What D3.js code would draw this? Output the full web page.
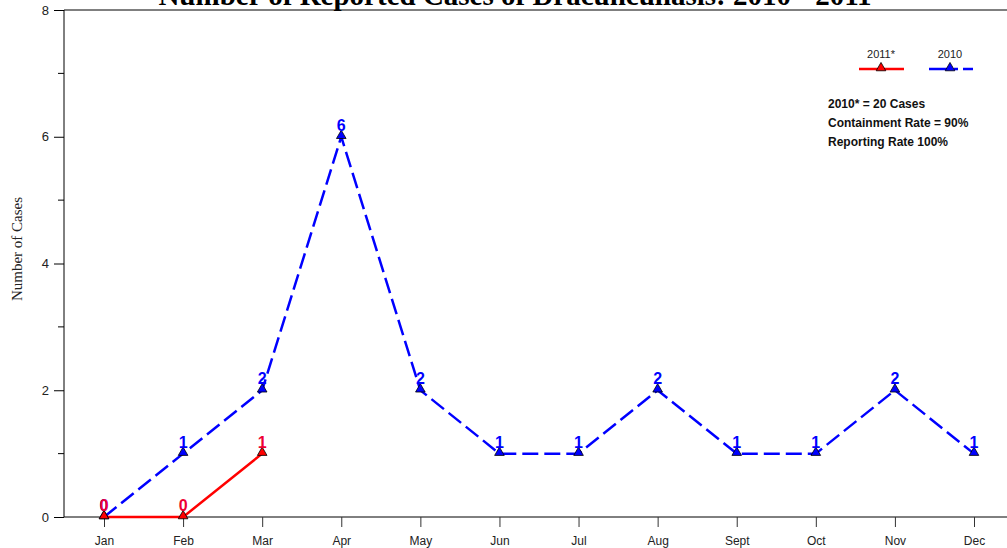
<!DOCTYPE html>
<html><head><meta charset="utf-8">
<script src="https://cdn.jsdelivr.net/npm/d3@7"></script>
<style>body{margin:0;background:#fff}svg{display:block}</style>
</head><body>
<svg id="c" width="1007" height="548"></svg>
<script>
const months = ["Jan","Feb","Mar","Apr","May","Jun","Jul","Aug","Sept","Oct","Nov","Dec"];
const cases2010 = [0,1,2,6,2,1,1,2,1,1,2,1];
const cases2011 = [0,0,1];
const yTicks = [0,2,4,6,8];
const yMinor = [1,3,5,7];
const notes = ["2010* = 20 Cases","Containment Rate = 90%","Reporting Rate 100%"];
const title = "Number of Reported Cases of Dracunculiasis: 2010 - 2011";

const svg = d3.select("#c");
const x = d3.scalePoint().domain(months).range([104, 974]);
const y = d3.scaleLinear().domain([0,8]).range([517, 10]);

// title (clipped at top, as in the reference)
svg.append("text").attr("x", 515).attr("y", 5).attr("text-anchor","middle")
  .attr("font-family","Liberation Serif, Times New Roman, serif").attr("font-weight","bold")
  .attr("font-size", 29).text(title);

// frame: top line
svg.append("line").attr("x1",64).attr("x2",1007).attr("y1",y(8)).attr("y2",y(8)).attr("stroke","#000");

// y axis
const ya = svg.append("g").attr("transform","translate(64,0)")
  .call(d3.axisLeft(y).tickValues(yTicks).tickSize(10).tickPadding(5).tickFormat(d3.format("d")));
ya.select(".domain").attr("d", `M0,${y(0)}V${y(8)}`);
ya.selectAll("text").attr("font-family","Liberation Sans, Arial, sans-serif").attr("font-size",13).attr("fill","#222");
svg.append("g").selectAll("line").data(yMinor).join("line")
  .attr("x1",58).attr("x2",64).attr("y1",d=>y(d)).attr("y2",d=>y(d)).attr("stroke","#000");

// x axis
const xa = svg.append("g").attr("transform",`translate(0,${y(0)})`)
  .call(d3.axisBottom(x).tickSize(10).tickPadding(9));
xa.select(".domain").attr("d","M64,0H1007");
xa.selectAll(".tick line").attr("stroke","#333");
xa.selectAll("text").attr("font-family","Liberation Sans, Arial, sans-serif").attr("font-size",12).attr("fill","#222");

// y title
svg.append("text").attr("transform",`translate(22,${249}) rotate(-90)`).attr("text-anchor","middle")
  .attr("font-family","Liberation Serif, Times New Roman, serif").attr("font-size",15).attr("fill","#222").text("Number of Cases");

const line = d3.line().x((d,i)=>x(months[i])).y(d=>y(d));
const tri = d3.symbol().type(d3.symbolTriangle).size(40);

// 2010 series
svg.append("path").datum(cases2010).attr("d",line).attr("fill","none")
  .attr("stroke","#0000ff").attr("stroke-width",2.5).attr("stroke-dasharray","16,6");
// 2011 series
svg.append("path").datum(cases2011).attr("d",line).attr("fill","none")
  .attr("stroke","#ff0000").attr("stroke-width",2.5);

function markers(data, color){
  svg.append("g").selectAll("path").data(data).join("path")
    .attr("d",tri).attr("transform",(d,i)=>`translate(${x(months[i])},${y(d)-1})`)
    .attr("fill",color).attr("stroke","#000").attr("stroke-width",0.8);
}
markers(cases2010,"#0000ff");
markers(cases2011,"#ff0000");

function labels(data,color){
  svg.append("g").selectAll("text").data(data).join("text")
    .attr("x",(d,i)=>x(months[i])).attr("y",d=>y(d)-6).attr("text-anchor","middle")
    .attr("font-family","Liberation Sans, Arial, sans-serif").attr("font-weight","bold").attr("font-size",16)
    .attr("fill",color).text(d=>d);
}
labels(cases2010,"#0000ff");
labels(cases2011,"#ee0033");

// legend
const leg = [{name:"2011*",color:"#ff0000",dash:null,x1:859,x2:904,cx:881},
             {name:"2010",color:"#0000ff",dash:"20,5,4,5",x1:929,x2:973,cx:950}];
leg.forEach(l=>{
  svg.append("text").attr("x",l.cx).attr("y",58).attr("text-anchor","middle")
    .attr("font-family","Liberation Sans, Arial, sans-serif").attr("font-size",11).attr("fill","#222").text(l.name);
  svg.append("line").attr("x1",l.x1).attr("x2",l.x2).attr("y1",69).attr("y2",69)
    .attr("stroke",l.color).attr("stroke-width",2.5).attr("stroke-dasharray",l.dash);
  svg.append("path").attr("d",tri).attr("transform",`translate(${l.cx},68)`)
    .attr("fill",l.color).attr("stroke","#000").attr("stroke-width",0.8);
});

// notes
svg.append("g").selectAll("text").data(notes).join("text")
  .attr("x",828).attr("y",(d,i)=>108+i*19)
  .attr("font-family","Liberation Sans, Arial, sans-serif").attr("font-weight","bold").attr("font-size",12)
  .attr("fill","#111").text(d=>d);
</script>
</body></html>
